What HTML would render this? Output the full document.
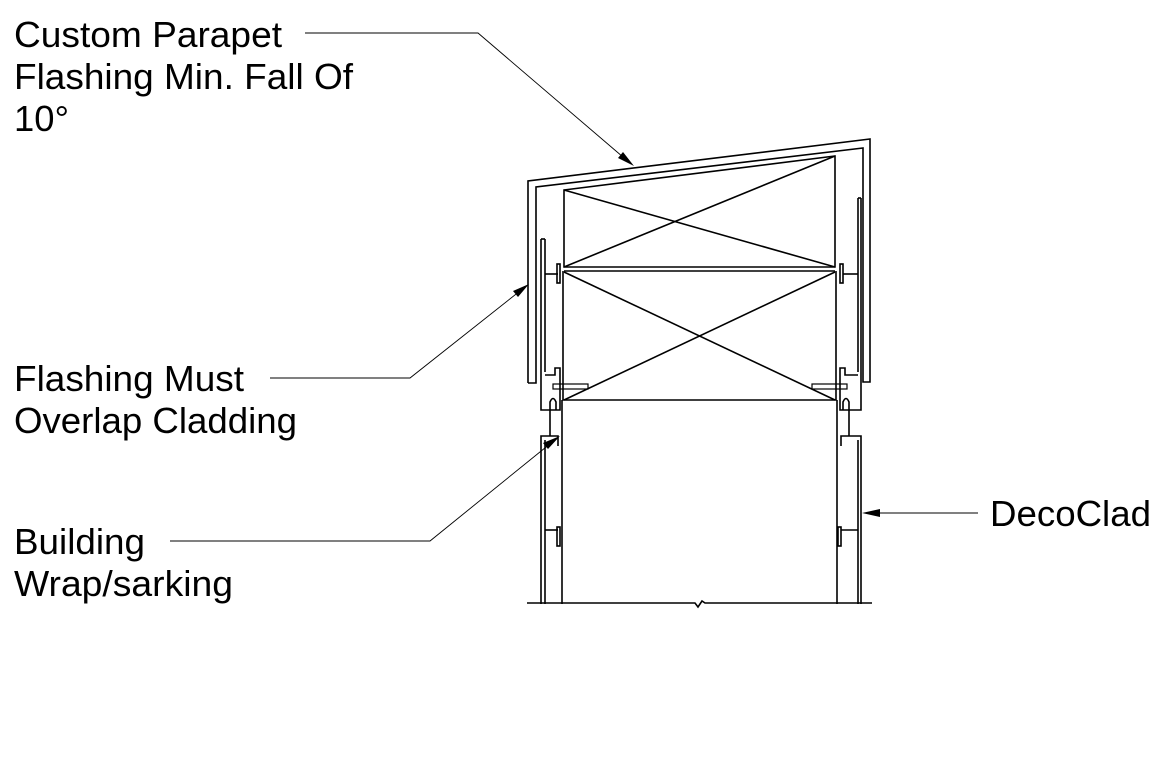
<!DOCTYPE html>
<html><head><style>
html,body{margin:0;padding:0;background:#fff;}
svg{display:block;}
text{font-family:"Liberation Sans",sans-serif;font-size:36px;fill:#000;}
</style></head><body>
<svg width="1166" height="768" viewBox="0 0 1166 768" xmlns="http://www.w3.org/2000/svg">
<g fill="none" stroke="#000" stroke-width="1.6">
<polyline points="528,383 528,181 870,139 870,382 863,382 863,148 536,187 536,383 528,383"/>
<polygon points="564,190 835,156 835,267 564,267"/>
<line x1="564" y1="190" x2="835" y2="267"/>
<line x1="564" y1="267" x2="835" y2="156"/>
<line x1="564" y1="271" x2="835" y2="271"/>
<polyline points="563,271 563,400 836,400 836,271"/>
<line x1="564" y1="272" x2="835" y2="400"/>
<line x1="564" y1="400" x2="835" y2="272"/>
<line x1="541" y1="239" x2="541" y2="372"/>
<line x1="545" y1="239" x2="545" y2="372"/>
<line x1="541" y1="239" x2="545" y2="239"/>
<line x1="545" y1="274" x2="558" y2="274"/>
<rect x="557" y="264" width="3" height="19"/>
<polyline points="541,372 541,410 560,410 560,368 555,368 555,375 545,375"/>
<line x1="858" y1="198" x2="858" y2="372"/>
<line x1="861" y1="198" x2="861" y2="372"/>
<line x1="858" y1="198" x2="861" y2="198"/>
<line x1="843" y1="274" x2="858" y2="274"/>
<rect x="840" y="264" width="3" height="19"/>
<polyline points="861,372 861,410 840,410 840,368 845,368 845,375 858,375"/>
<rect x="553" y="384" width="35" height="5" stroke-width="1.2"/>
<rect x="812" y="384" width="35" height="5" stroke-width="1.2"/>
<path d="M550,436 L550,402 Q553,395 556,402 L556,410"/>
<path d="M849,436 L849,402 Q846,395 843,402 L843,410"/>
<line x1="562" y1="400" x2="562" y2="604"/>
<line x1="837" y1="400" x2="837" y2="604"/>
<polyline points="541,604 541,436 558,436 558,446"/>
<line x1="545" y1="440" x2="545" y2="604"/>
<line x1="545" y1="530" x2="558" y2="530"/>
<rect x="557" y="527" width="3" height="19"/>
<polyline points="861,604 861,436 841,436 841,446"/>
<line x1="858" y1="440" x2="858" y2="604"/>
<line x1="841" y1="530" x2="858" y2="530"/>
<rect x="838" y="527" width="3" height="19"/>
<polyline points="527,603 695,603 698,607 702,601 705,603 872,603"/>
</g>
<g fill="none" stroke="#000" stroke-width="0.9">
<polyline points="305,33 478,33 630,163"/>
<polyline points="270,378 410,378 525,287"/>
<polyline points="170,541 430,541 556,439"/>
<line x1="978" y1="513" x2="864" y2="513"/>
</g>
<g fill="#000">
<polygon points="634,166 618,158 623,152"/>
<polygon points="529,284 518,297 513,291"/>
<polygon points="560,436 548,449 543,443"/>
<polygon points="862,513 880,509 880,517"/>
</g>
<text x="14" y="47" textLength="268" lengthAdjust="spacingAndGlyphs">Custom Parapet</text>
<text x="14" y="89" textLength="339" lengthAdjust="spacingAndGlyphs">Flashing Min. Fall Of</text>
<text x="14" y="131" textLength="55" lengthAdjust="spacingAndGlyphs">10°</text>
<text x="14" y="391" textLength="230" lengthAdjust="spacingAndGlyphs">Flashing Must</text>
<text x="14" y="433" textLength="283" lengthAdjust="spacingAndGlyphs">Overlap Cladding</text>
<text x="14" y="554" textLength="131" lengthAdjust="spacingAndGlyphs">Building</text>
<text x="14" y="596" textLength="219" lengthAdjust="spacingAndGlyphs">Wrap/sarking</text>
<text x="990" y="526" textLength="161" lengthAdjust="spacingAndGlyphs">DecoClad</text>
</svg>
</body></html>
